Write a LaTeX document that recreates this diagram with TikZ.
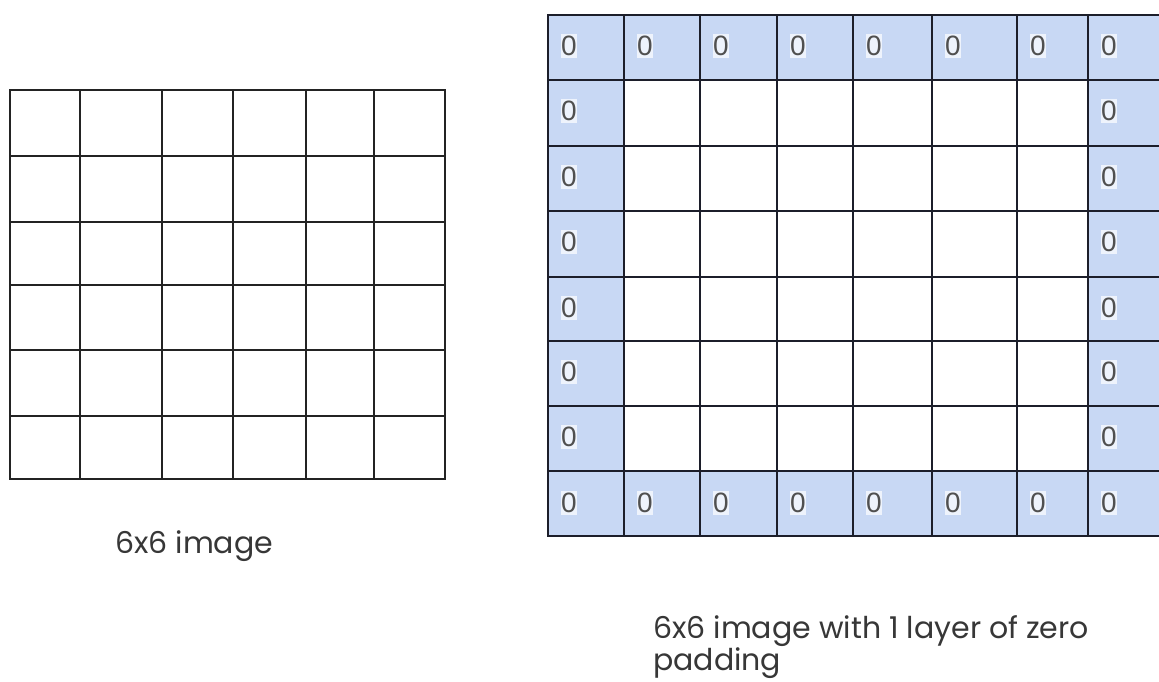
\documentclass[tikz,border=0pt]{standalone}
\usepackage{fontspec}
\setmainfont{Poppins}
\newfontfamily\digitfont{Liberation Sans}
\definecolor{padblue}{RGB}{200,216,244}
\definecolor{halo}{RGB}{238,243,252}
\definecolor{gridink}{RGB}{28,30,42}
\definecolor{leftink}{RGB}{35,35,35}
\definecolor{zeroink}{RGB}{80,80,80}
\definecolor{labelink}{RGB}{55,55,55}
\tikzset{
  leftline/.style={draw=leftink, line width=2.4pt, line cap=rect},
  padline/.style={draw=gridink, line width=2pt, line cap=rect},
  zero/.style={font=\digitfont\fontsize{28}{28}\selectfont, text=zeroink, fill=halo, inner xsep=0.5pt, inner ysep=2pt},
  caption/.style={font=\fontsize{30}{32}\selectfont, text=labelink, inner sep=0pt, anchor=base west}
}
\begin{document}
\begin{tikzpicture}[x=1pt,y=-1pt]
\useasboundingbox (0,0) rectangle (1159,682);
\fill[white] (0,0) rectangle (1159,682);
% left 6x6 grid
\foreach \x in {10,80,162,233,306,374,445} \draw[leftline] (\x,90) -- (\x,479);
\foreach \y in {90,156,222,285,350,416,479} \draw[leftline] (10,\y) -- (445,\y);
\node[caption] (cap6) at (115,553) {6x6 image};
% right padded grid
\begin{scope}
\clip (0,0) rectangle (1159,682);
\fill[padblue] (548,15) rectangle (1175,536);
\fill[white] (624,80) rectangle (1088,471);
\foreach \x in {548,624,700,777,853,932,1017,1088} \draw[padline] (\x,15) -- (\x,536);
\foreach \y in {15,80,146,211,277,341,406,471,536} \draw[padline] (548,\y) -- (1175,\y);
\end{scope}
\foreach \x [count=\j] in {548,624,700,777,853,932,1017,1088} {
  \node[zero] (zt-\j) at (\x+21,46) {0};
  \node[zero] (zb-\j) at (\x+21,503) {0};
}
\foreach \y [count=\i] in {80,146,211,277,341,406} {
  \node[zero] (zl-\i) at (569,\y+31) {0};
  \node[zero] (zr-\i) at (1109,\y+31) {0};
}
\node[caption] (capa) at (653,638) {6x6 image with 1 layer of zero};
\node[caption] (capb) at (653,670) {padding};
\end{tikzpicture}
\end{document}
